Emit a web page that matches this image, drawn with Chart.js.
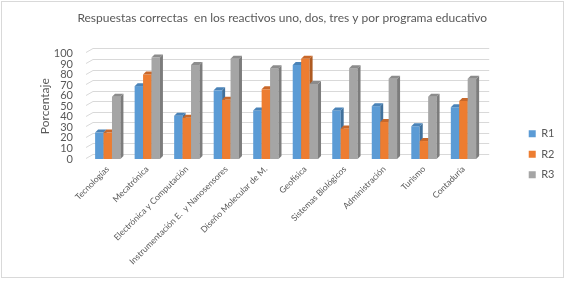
<!DOCTYPE html>
<html><head><meta charset="utf-8">
<script src="https://cdn.jsdelivr.net/npm/chart.js@4.4.0/dist/chart.umd.min.js"></script>
<style>html,body{margin:0;padding:0;background:#fff}</style>
</head><body>
<canvas id="c" width="567" height="283"></canvas>
<script>
const categories = ['Tecnologías','Mecatrónica','Electrónica y Computación','Instrumentación E.  y Nanosensores','Diseño Molecular de M.','Geofísica','Sistemas Biológicos','Administración','Turismo','Contaduría'];
const seriesNames = ['R1','R2','R3'];
const r1 = [25, 69, 41, 65, 46, 89, 46, 50, 31, 49];
const r2 = [25, 80, 39, 56, 66, 95, 29, 35, 17, 55];
const r3 = [59, 96, 89, 95, 86, 71, 86, 76, 59, 76];
const yTickValues = [0,10,20,30,40,50,60,70,80,90,100];
const titleText = 'Respuestas correctas  en los reactivos uno, dos, tres y por programa educativo';
const yTitle = 'Porcentaje';

const frontColors = ['#5B9BD5','#ED7D31','#A5A5A5'];
const sideColors = ['#41719C','#AE5A21','#7C7C7C'];
const topColors = ['#4A83B8','#C9682A','#8C8C8C'];
const textColor = '#595959';
const FONT = 'Lato';

const bgPlugin = {
  id: 'bg',
  beforeDraw(chart) {
    const ctx = chart.ctx;
    ctx.save();
    ctx.fillStyle = '#fff';
    ctx.fillRect(0,0,chart.width,chart.height);
    ctx.strokeStyle = '#d9d9d9';
    ctx.lineWidth = 1;
    ctx.strokeRect(1.5,1.5,562,276);
    ctx.restore();
  }
};

const bars3d = {
  id: 'bars3d',
  beforeDatasetsDraw(chart) {
    const ctx = chart.ctx;
    const ys = chart.scales.y;
    const area = chart.chartArea;
    ctx.save();
    ctx.strokeStyle = '#d9d9d9';
    ctx.lineWidth = 1;
    yTickValues.forEach(v => {
      const yf = Math.round(ys.getPixelForValue(v)) + 0.5;
      ctx.beginPath();
      ctx.moveTo(area.left - 2, yf - 1);
      ctx.lineTo(area.left + 5, yf - 5);
      ctx.lineTo(area.right + 6, yf - 5);
      ctx.stroke();
    });
    const dx = 3, dy = 3;
    const n = categories.length;
    for (let i = 0; i < n; i++) {
      for (let d = 0; d < chart.data.datasets.length; d++) {
        const el = chart.getDatasetMeta(d).data[i];
        if (!el) continue;
        const w = el.width, x0 = el.x - w/2, x1 = el.x + w/2, yt = el.y, yb = el.base;
        ctx.fillStyle = frontColors[d];
        ctx.fillRect(x0, yt, w, yb - yt);
        ctx.fillStyle = sideColors[d];
        ctx.beginPath();
        ctx.moveTo(x1, yt); ctx.lineTo(x1+dx, yt-dy); ctx.lineTo(x1+dx, yb-dy); ctx.lineTo(x1, yb); ctx.closePath();
        ctx.fill();
        ctx.fillStyle = topColors[d];
        ctx.beginPath();
        ctx.moveTo(x0, yt); ctx.lineTo(x0+dx, yt-dy); ctx.lineTo(x1+dx, yt-dy); ctx.lineTo(x1, yt); ctx.closePath();
        ctx.fill();
      }
    }
    ctx.restore();
    return false;
  }
};

new Chart(document.getElementById('c'), {
  type: 'bar',
  data: {
    labels: categories,
    datasets: [
      {label: seriesNames[0], data: r1, backgroundColor: frontColors[0]},
      {label: seriesNames[1], data: r2, backgroundColor: frontColors[1]},
      {label: seriesNames[2], data: r3, backgroundColor: frontColors[2]}
    ]
  },
  options: {
    responsive: false,
    animation: false,
    devicePixelRatio: 1,
    categoryPercentage: 0.64,
    barPercentage: 1,
    layout: {padding: {left: 0, right: 2.5, top: 0, bottom: 6}},
    plugins: {
      tooltip: {enabled: false},
      title: {
        display: true, text: titleText, color: textColor,
        font: {family: FONT, size: 12, weight: 'normal'},
        padding: {top: 11, bottom: 28}
      },
      legend: {
        position: 'right',
        title: {display: true, text: ' ', font: {family: FONT, size: 10}, padding: {top: 10, bottom: 9.4}},
        labels: {
          boxWidth: 7, boxHeight: 7, padding: 9.5, color: textColor,
          font: {family: FONT, size: 11}
        }
      }
    },
    scales: {
      x: {
        grid: {display: false, drawTicks: false, tickLength: 0}, border: {display: false},
        ticks: {autoSkip: false, maxRotation: 45, minRotation: 45, padding: 5, color: textColor, font: {family: FONT, size: 8.6}},
        afterFit(s) { s.height = 118; }
      },
      y: {
        min: 0, max: 100,
        grid: {display: false, drawTicks: false, tickLength: 0}, border: {display: false},
        afterBuildTicks(s) { s.ticks = yTickValues.map(v => ({value: v})); },
        ticks: {autoSkip: false, padding: 15, color: textColor, font: {family: FONT, size: 11}},
        title: {display: true, text: yTitle, color: textColor, font: {family: FONT, size: 12}, padding: {top: 38, bottom: 0}},
        afterFit(s) { s.width = 88; }
      },
      y2: {
        type: 'linear', position: 'right', display: true,
        grid: {display: false}, border: {display: false}, ticks: {display: false},
        afterFit(s) { s.width = 36; }
      }
    }
  },
  plugins: [bgPlugin, bars3d]
});
</script>
</body></html>
